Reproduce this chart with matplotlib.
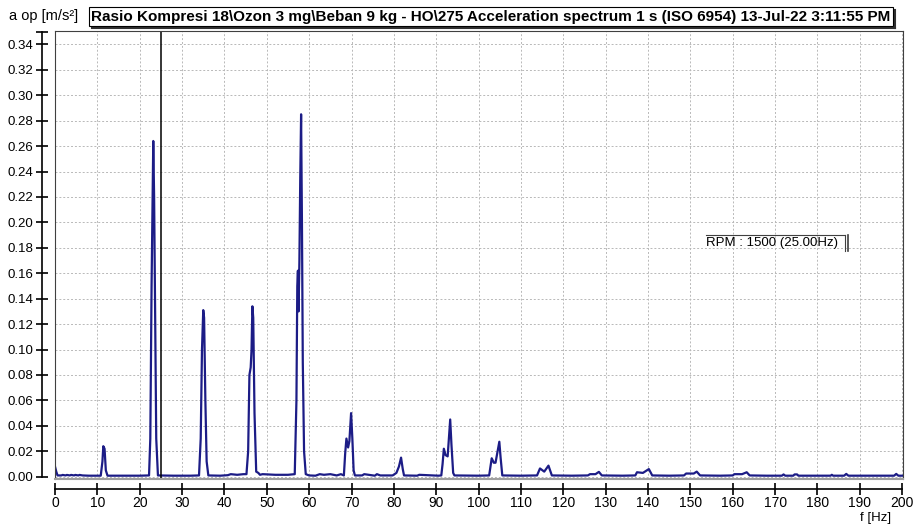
import matplotlib
matplotlib.use("Agg")
import matplotlib.pyplot as plt
from matplotlib.lines import Line2D

plt.rcParams['font.family'] = ['Liberation Sans', 'DejaVu Sans']

# spectrum trace (f in Hz, a in m/s^2)
freq = [0, 0.3, 0.6, 1.5, 1.8, 2.5, 2.8, 3.5, 3.8, 4.5, 4.8, 5.5, 5.8, 6.5, 8, 10.8,
        11.2, 11.4, 11.7, 12.0, 12.4, 16, 20, 22.2,
        22.5, 22.8, 23.0, 23.2, 23.4, 23.6, 23.9, 24.3, 28, 32, 34.0,
        34.4, 34.7, 35.0, 35.2, 35.5, 35.8, 36.2, 39, 40.8, 41.5, 43, 44.5, 45.2,
        45.6, 45.9, 46.2, 46.4, 46.6, 46.8, 47.1, 47.5, 48.0, 48.4, 49, 52, 55, 56.6,
        57.0, 57.2, 57.35, 57.5, 57.7, 57.9, 58.1, 58.3, 58.5, 58.8, 59.2,
        60, 61.5, 62.5, 63.5, 65, 66.5, 67.5, 68.2,
        68.5, 68.8, 69.2, 69.5, 69.9, 70.2, 70.5, 70.8, 72.5, 73, 75.5, 76, 76.8, 79.7,
        80.6, 81.2, 81.7, 82.1, 82.4, 85.5, 86, 90.5, 91.2,
        91.5, 91.8, 92.2, 92.7, 93.0, 93.3, 93.6, 94.0, 94.3, 100, 102.5,
        102.8, 103.1, 103.6, 104.0, 104.5, 104.9, 105.2, 105.6, 110, 113.8,
        114.5, 115.5, 116.5, 117.3, 122, 125.8,
        126.3, 127.6, 128.4, 129.1, 134, 137.0,
        137.4, 138.8, 140.2, 141.0, 145, 148.5,
        149.0, 150.8, 151.5, 152.3, 157, 160.0,
        160.4, 162.2, 163.3, 164.0, 168, 171.6,
        172.0, 172.4, 174.3, 174.6, 175.2, 175.5, 180, 183.1,
        183.4, 183.7, 186.3, 186.8, 187.3, 193, 198.1,
        198.6, 199.1, 200]
amp = [0.008, 0.004, 0.001, 0.001, 0.0014, 0.001, 0.0014, 0.001, 0.0014, 0.001, 0.0014, 0.001, 0.0014, 0.001, 0.0008, 0.0008,
       0.012, 0.024, 0.022, 0.005, 0.0008, 0.0008, 0.0008, 0.001,
       0.03, 0.15, 0.21, 0.264, 0.22, 0.14, 0.03, 0.001, 0.0008, 0.0008, 0.001,
       0.03, 0.10, 0.131, 0.125, 0.06, 0.012, 0.001, 0.0008, 0.0012, 0.002, 0.0015, 0.002, 0.002,
       0.02, 0.08, 0.086, 0.10, 0.134, 0.125, 0.05, 0.004, 0.003, 0.0015, 0.002, 0.0015, 0.0015, 0.002,
       0.06, 0.15, 0.162, 0.13, 0.17, 0.235, 0.285, 0.20, 0.09, 0.02, 0.002,
       0.001, 0.0008, 0.002, 0.0015, 0.002, 0.001, 0.002, 0.001,
       0.018, 0.030, 0.023, 0.028, 0.050, 0.03, 0.005, 0.001, 0.001, 0.002, 0.0008, 0.002, 0.001, 0.001,
       0.003, 0.008, 0.015, 0.006, 0.001, 0.0008, 0.0015, 0.0008, 0.001,
       0.01, 0.022, 0.017, 0.016, 0.03, 0.045, 0.025, 0.003, 0.001, 0.0008, 0.001,
       0.008, 0.0145, 0.011, 0.011, 0.02, 0.0275, 0.015, 0.001, 0.0008, 0.001,
       0.0065, 0.004, 0.0087, 0.001, 0.0008, 0.001,
       0.002, 0.002, 0.0038, 0.001, 0.0008, 0.001,
       0.0035, 0.003, 0.006, 0.001, 0.0008, 0.001,
       0.0025, 0.0025, 0.004, 0.001, 0.0008, 0.001,
       0.002, 0.002, 0.0035, 0.001, 0.0008, 0.0008,
       0.0018, 0.0008, 0.0008, 0.0018, 0.0018, 0.0008, 0.0008, 0.0008,
       0.0015, 0.0008, 0.0008, 0.0022, 0.0008, 0.0008, 0.0008,
       0.0022, 0.0008, 0.0008]

yticks = [0.00, 0.02, 0.04, 0.06, 0.08, 0.10, 0.12, 0.14, 0.16, 0.18,
          0.20, 0.22, 0.24, 0.26, 0.28, 0.30, 0.32, 0.34]
xticks = list(range(0, 201, 10))
rpm_hz = 25.0

title = ("Rasio Kompresi 18\\Ozon 3 mg\\Beban 9 kg - HO\\275 Acceleration spectrum 1 s "
         "(ISO 6954) 13-Jul-22 3:11:55 PM")

W, H = 913, 524
fig = plt.figure(figsize=(W / 100, H / 100), dpi=100)

def box(x0, y0, x1, y1):
    # pixel box (from top-left) -> figure fraction rect
    return [x0 / W, 1 - y1 / H, (x1 - x0) / W, (y1 - y0) / H]

ylo, yhi = -0.0018, 0.3505
xlo, xhi = 0, 200.2

# main plot area
ax = fig.add_axes(box(55, 31, 903, 479))
ax.plot(freq, amp, color='#1c1c86', lw=1.6)
ax.axvline(rpm_hz, color='black', lw=1.1)
ax.set_xlim(xlo, xhi)
ax.set_ylim(ylo, yhi)
ax.set_xticks(xticks)
ax.set_yticks(yticks)
ax.tick_params(length=0, labelbottom=False, labelleft=False)
ax.grid(True, color='#b8b8b8', linestyle=(0, (2, 2)), lw=0.7)
for s in ax.spines.values():
    s.set_color('#404040')
    s.set_linewidth(0.8)
ax.spines['bottom'].set_color('#a0a0a0')
ax.spines['bottom'].set_linewidth(1.5)

# separate y axis
ay = fig.add_axes(box(42, 31, 43, 479))
ay.set_ylim(ylo, yhi)
ay.set_xlim(0, 1)
for k in ['top', 'right', 'bottom']:
    ay.spines[k].set_visible(False)
ay.spines['left'].set_bounds(0, 0.35)
ay.spines['left'].set_linewidth(1.2)
ay.set_xticks([])
ay.set_yticks(yticks)
ay.set_yticklabels([f"{v:.2f}" for v in yticks])
ay.set_yticks([0.35], minor=True)
ay.tick_params(axis='y', direction='inout', length=8, width=1.2, labelsize=9.5, pad=2)
ay.tick_params(axis='y', which='minor', direction='inout', length=9, width=1.2)
ay.patch.set_visible(False)

# separate x axis
axx = fig.add_axes(box(55, 488, 903, 489))
axx.set_xlim(xlo, xhi)
axx.set_ylim(0, 1)
for k in ['top', 'right', 'left']:
    axx.spines[k].set_visible(False)
axx.spines['bottom'].set_bounds(0, 200)
axx.spines['bottom'].set_linewidth(1.2)
axx.set_yticks([])
axx.set_xticks(xticks)
axx.set_xticklabels([str(v) for v in xticks])
axx.tick_params(axis='x', direction='inout', length=8, width=1.2, labelsize=10, pad=1)
axx.patch.set_visible(False)

fig.text(876 / W, 1 - 518 / H, "f [Hz]", fontsize=9.5, ha='center', va='center')
fig.text(9 / W, 1 - 16 / H, "a op [m/s²]", fontsize=10.5, ha='left', va='center')

# title box
t = fig.text(491 / W, 1 - 16.5 / H, title, fontsize=11, fontweight='bold',
             ha='center', va='center',
             bbox=dict(boxstyle='square,pad=0.18', fc='white', ec='black', lw=0.8))

# shadow on the right and bottom edge of the title box
fig.canvas.draw()
bb = t.get_bbox_patch().get_window_extent().transformed(fig.transFigure.inverted())
dx, dy = 1.5 / W, 1.5 / H
fig.add_artist(Line2D([bb.x1 + dx, bb.x1 + dx], [bb.y0 - dy, bb.y1 - 2 * dy], color='#303030', lw=1.5))
fig.add_artist(Line2D([bb.x0 + 2 * dx, bb.x1 + dx], [bb.y0 - dy, bb.y0 - dy], color='#303030', lw=1.5))

# RPM marker label
fig.text(706 / W, 1 - 243 / H, "RPM : 1500 (25.00Hz)", fontsize=9.5, ha='left', va='center')
fig.add_artist(Line2D([706 / W, 845 / W], [1 - 235 / H, 1 - 235 / H], color='#404040', lw=0.8))
fig.add_artist(Line2D([845 / W, 845 / W], [1 - 235 / H, 1 - 251 / H], color='#404040', lw=0.8))
fig.add_artist(Line2D([847.5 / W, 847.5 / W], [1 - 235 / H, 1 - 251 / H], color='#404040', lw=1.2))

fig.savefig("out.png", dpi=100)
